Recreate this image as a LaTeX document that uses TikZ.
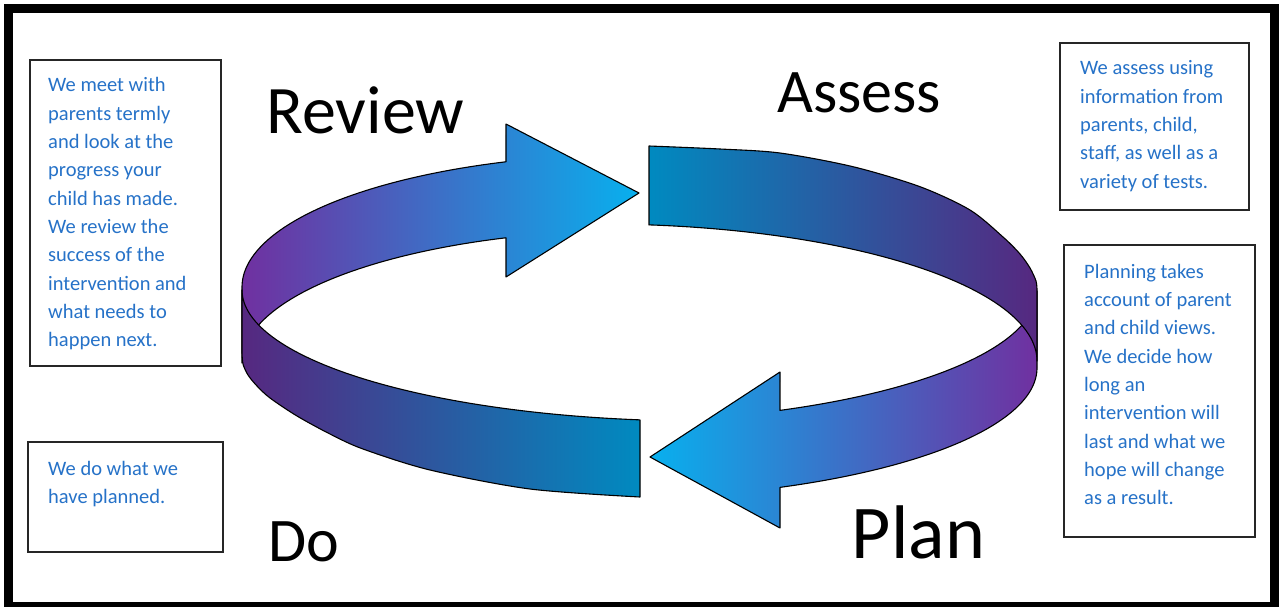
\documentclass[tikz,border=0pt]{standalone}
\usepackage{fontspec}
\setmainfont{Carlito}
\definecolor{bodyblue}{RGB}{38,114,200}
\definecolor{purL}{RGB}{112,48,160}
\definecolor{purD}{RGB}{86,40,128}
\definecolor{cyanL}{RGB}{8,176,238}
\definecolor{tealD}{RGB}{0,138,192}
\tikzset{
  band/.style={draw=black, line width=1.1pt, line join=round},
  textbox/.style={draw=black!85, line width=1.8pt, fill=white, inner sep=0pt},
  body/.style={text=bodyblue, anchor=base west, inner sep=0pt, font=\fontsize{20.5}{24}\selectfont},
  stage/.style={anchor=base, inner sep=0pt, text=black},
}
\begin{document}
\begin{tikzpicture}[x=1pt,y=-1pt]
\useasboundingbox (0,0) rectangle (1279,607);
\fill[white] (0,0) rectangle (1279,607);
\draw[line width=9pt] (8.5,9) rectangle (1274,606);

% upper arrow (Review -> Assess)
\path[band, left color=purL, right color=cyanL]
 (506,124) -- (639,193) -- (506,277) -- (506,238)
 -- plot[domain=109.68:180, samples=60, variable=\t] ({640+398*cos(\t)},{363-133*sin(\t)})
 -- plot[domain=180:109.68, samples=60, variable=\t] ({640+398*cos(\t)},{287-133*sin(\t)})
 -- cycle;

% lower arrow (Plan -> Do)
\path[band, left color=cyanL, right color=purL]
 (780,372) -- (650,457) -- (780,528) -- (780,488)
 -- plot[domain=294.32:360, samples=60, variable=\t] ({600+437*cos(\t)},{368-131*sin(\t)})
 -- plot[domain=360:294.32, samples=60, variable=\t] ({600+437*cos(\t)},{291-131*sin(\t)})
 -- cycle;

% front-left band
\path[band, left color=purD, right color=tealD]
 (640,420)
 -- plot[domain=262.47:180, samples=60, variable=\t] ({700+458*cos(\t)},{290-131*sin(\t)})
 -- (242,352)
 -- plot[smooth] coordinates {(242,352) (243,364) (248,375) (257,386) (270,398) (297,416) (330,434) (363,449) (430,470) (530,489) (640,497)}
 -- cycle;

% back-right band
\path[band, left color=tealD, right color=purD]
 (649,225) -- (649,146)
 -- plot[smooth] coordinates {(649,146) (720,149) (780,153) (853,166.7) (920,186.7) (970,210) (1003,237) (1020,254) (1030,268) (1036,281) (1037,290)}
 -- (1037,361)
 -- plot[domain=0:83.56, samples=60, variable=\t] ({600+437*cos(\t)},{361-137*sin(\t)})
 -- cycle;

% text boxes
\node[textbox, minimum width=191pt, minimum height=306pt] (boxReview) at (125.5,213) {};
\node[textbox, minimum width=195pt, minimum height=110pt] (boxDo) at (125.5,497) {};
\node[textbox, minimum width=189pt, minimum height=167pt] (boxAssess) at (1154.5,126.5) {};
\node[textbox, minimum width=191pt, minimum height=292pt] (boxPlan) at (1159.5,391) {};

\foreach \s [count=\i] in {We meet with, parents termly, and look at the, progress your, child has made., We review the, success of the, intervention and, what needs to, happen next.}
  \node[body] (rv\i) at (48,{92+28.3*(\i-1)}) {\s};
\foreach \s [count=\i] in {We do what we, have planned.}
  \node[body] (do\i) at (48,{475+28.3*(\i-1)}) {\s};
\foreach \s [count=\i] in {We assess using, information from, {parents, child,}, {staff, as well as a}, variety of tests.}
  \node[body] (as\i) at (1080,{75+28.3*(\i-1)}) {\s};
\foreach \s [count=\i] in {Planning takes, account of parent, and child views., We decide how, long an, intervention will, last and what we, hope will change, as a result.}
  \node[body] (pl\i) at (1084,{278.3+28.3*(\i-1)}) {\s};

% stage titles
\node[stage, font=\fontsize{68}{70}\selectfont] (review) at (365.5,133) {Review};
\node[stage, font=\fontsize{62}{64}\selectfont] (assess) at (859,113) {Assess};
\node[stage, font=\fontsize{62}{64}\selectfont] (do) at (304,561) {Do};
\node[stage, font=\fontsize{76}{78}\selectfont] (plan) at (918.5,558) {Plan};
\end{tikzpicture}
\end{document}
